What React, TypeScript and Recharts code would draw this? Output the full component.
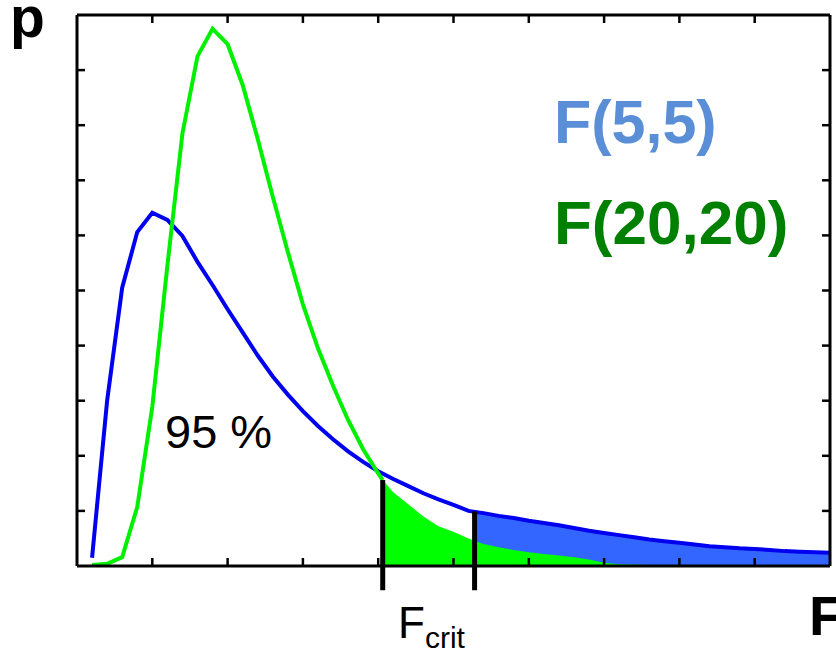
import React from "react";
import { ComposedChart, Line, Area, XAxis, YAxis, ReferenceLine } from "recharts";

// F(5,5) density, sampled every 0.1 along the axis
const BLUE_X = [
  0.1, 0.2, 0.3, 0.4, 0.5, 0.6, 0.7, 0.8, 0.9, 1.0,
  1.1, 1.2, 1.3, 1.4, 1.5, 1.6, 1.7, 1.8, 1.9, 2.0,
  2.1, 2.2, 2.3, 2.4, 2.5, 2.6, 2.7, 2.8, 2.9, 3.0,
  3.1, 3.2, 3.3, 3.4, 3.5, 3.6, 3.7, 3.8, 3.9, 4.0,
  4.1, 4.2, 4.3, 4.4, 4.5, 4.6, 4.7, 4.8, 4.9, 5.0,
];
const BLUE_Y = [
  0.015, 0.3, 0.505, 0.606, 0.641, 0.628, 0.599, 0.552, 0.51, 0.466,
  0.424, 0.382, 0.344, 0.311, 0.281, 0.254, 0.23, 0.208, 0.189, 0.172,
  0.158, 0.145, 0.132, 0.121, 0.111, 0.1, 0.096, 0.091, 0.087, 0.082,
  0.078, 0.074, 0.069, 0.064, 0.06, 0.056, 0.052, 0.048, 0.045, 0.042,
  0.039, 0.036, 0.034, 0.032, 0.031, 0.029, 0.027, 0.026, 0.025, 0.024,
];

// F(20,20) density up to F crit
const GREEN_X = [
  0.1, 0.2, 0.3, 0.4, 0.5, 0.6, 0.7, 0.8, 0.9, 1.0,
  1.1, 1.2, 1.3, 1.4, 1.5, 1.6, 1.7, 1.8, 1.9, 2.0, 2.03,
];
const GREEN_Y = [
  0.002, 0.004, 0.016, 0.107, 0.289, 0.545, 0.785, 0.925, 0.975, 0.947,
  0.873, 0.775, 0.67, 0.57, 0.475, 0.395, 0.327, 0.265, 0.212, 0.168, 0.156,
];

// shaded tails
const GREEN_TAIL_X = [
  2.03, 2.1, 2.2, 2.3, 2.4, 2.5, 2.6, 2.7, 2.8, 2.9, 3.0, 3.1, 3.2, 3.3,
  3.4, 3.5, 3.6, 3.8, 4.0, 4.5, 5.0,
];
const GREEN_TAIL_Y = [
  0.156, 0.134, 0.112, 0.09, 0.072, 0.062, 0.05, 0.04, 0.034, 0.029, 0.025, 0.022, 0.019, 0.016,
  0.012, 0.006, 0.003, 0.002, 0.002, 0.002, 0.002,
];
const BLUE_TAIL_X = [
  2.64, 2.7, 2.8, 2.9, 3.0, 3.1, 3.2, 3.3, 3.4, 3.5, 3.6, 3.7, 3.8, 3.9, 4.0,
  4.1, 4.2, 4.3, 4.4, 4.5, 4.6, 4.7, 4.8, 4.9, 5.0,
];
const BLUE_TAIL_Y = [
  0.099, 0.096, 0.091, 0.087, 0.082, 0.078, 0.074, 0.069, 0.064, 0.06, 0.056, 0.052, 0.048, 0.045, 0.042,
  0.039, 0.036, 0.034, 0.032, 0.031, 0.029, 0.027, 0.026, 0.025, 0.024,
];

const X_TICKS = [0.5, 1, 1.5, 2, 2.5, 3, 3.5, 4, 4.5];
const Y_TICKS = [0.1, 0.2, 0.3, 0.4, 0.5, 0.6, 0.7, 0.8, 0.9];

const F_CRIT = { x: 2.03, top: 0.156 };
const F_BLUE = { x: 2.64, top: 0.099 };
const BAR_BOTTOM = -0.044;

const toRows = (xs: number[], ys: number[]) => xs.map((x, i) => ({ x, y: ys[i] }));

const blueData = toRows(BLUE_X, BLUE_Y);
const greenData = toRows(GREEN_X, GREEN_Y);
const greenTail = toRows(GREEN_TAIL_X, GREEN_TAIL_Y);
const blueTail = toRows(BLUE_TAIL_X, BLUE_TAIL_Y);

const TICK_LEN = 7;
const tickStroke = { stroke: "#000", strokeWidth: 2.5 };

// axes are 1px thick boxes, so the tick anchor sits 1px outside the plot edge
const BottomTick = (p: any) => <line x1={p.x} x2={p.x} y1={p.y - 1} y2={p.y - 1 - TICK_LEN} {...tickStroke} />;
const TopTick = (p: any) => <line x1={p.x} x2={p.x} y1={p.y + 1} y2={p.y + 1 + TICK_LEN} {...tickStroke} />;
const LeftTick = (p: any) => <line x1={p.x + 1} x2={p.x + 1 + TICK_LEN} y1={p.y} y2={p.y} {...tickStroke} />;
const RightTick = (p: any) => <line x1={p.x - 1} x2={p.x - 1 - TICK_LEN} y1={p.y} y2={p.y} {...tickStroke} />;

const FONT = "'Liberation Sans', Arial, sans-serif";
const axisLine = { stroke: "#000", strokeWidth: 3 };

export default function App() {
  return (
    <div style={{ position: "absolute", left: 0, top: 0, width: 836, height: 651, background: "#fff" }}>
      <ComposedChart width={836} height={651} margin={{ top: 14, right: 5, bottom: 84, left: 76 }}>
        <XAxis
          dataKey="x"
          type="number"
          domain={[0, 5]}
          allowDataOverflow
          ticks={X_TICKS}
          height={1}
          tickSize={0}
          tickMargin={0}
          tickLine={false}
          axisLine={axisLine}
          tick={BottomTick}
        />
        <XAxis
          xAxisId="top"
          orientation="top"
          dataKey="x"
          type="number"
          domain={[0, 5]}
          allowDataOverflow
          ticks={X_TICKS}
          height={1}
          tickSize={0}
          tickMargin={0}
          tickLine={false}
          axisLine={axisLine}
          tick={TopTick}
        />
        <YAxis
          type="number"
          domain={[0, 1]}
          allowDataOverflow
          ticks={Y_TICKS}
          width={1}
          tickSize={0}
          tickMargin={0}
          tickLine={false}
          axisLine={axisLine}
          tick={LeftTick}
        />
        <YAxis
          yAxisId="right"
          orientation="right"
          type="number"
          domain={[0, 1]}
          allowDataOverflow
          ticks={Y_TICKS}
          width={1}
          tickSize={0}
          tickMargin={0}
          tickLine={false}
          axisLine={axisLine}
          tick={RightTick}
        />
        <Area
          data={blueTail}
          dataKey="y"
          type="linear"
          stroke="none"
          fill="#3366ff"
          fillOpacity={1}
          isAnimationActive={false}
        />
        <Area
          data={greenTail}
          dataKey="y"
          type="linear"
          stroke="none"
          fill="#00ff00"
          fillOpacity={1}
          isAnimationActive={false}
        />
        <Line
          data={blueData}
          dataKey="y"
          type="linear"
          stroke="#0000f0"
          strokeWidth={4}
          dot={false}
          isAnimationActive={false}
        />
        <Line
          data={greenData}
          dataKey="y"
          type="linear"
          stroke="#00f000"
          strokeWidth={4}
          dot={false}
          isAnimationActive={false}
        />
        <ReferenceLine
          segment={[{ x: F_CRIT.x, y: BAR_BOTTOM }, { x: F_CRIT.x, y: F_CRIT.top }]}
          stroke="#000"
          strokeWidth={5}
          ifOverflow="visible"
        />
        <ReferenceLine
          segment={[{ x: F_BLUE.x, y: BAR_BOTTOM }, { x: F_BLUE.x, y: F_BLUE.top }]}
          stroke="#000"
          strokeWidth={5}
          ifOverflow="visible"
        />
      </ComposedChart>
      <svg
        width={836}
        height={651}
        style={{ position: "absolute", left: 0, top: 0, pointerEvents: "none" }}
        fontFamily={FONT}
      >
        <text x={10} y={37} fontSize={57} fontWeight="bold" fill="#000">p</text>
        <text x={809} y={635} fontSize={56} fontWeight="bold" fill="#000">F</text>
        <text x={165} y={448} fontSize={47} fill="#000">95 %</text>
        <text x={398} y={638} fontSize={44} fill="#000">
          F
          <tspan fontSize={30} dy={10}>crit</tspan>
        </text>
        <text x={554} y={143} fontSize={61} fontWeight="bold" fill="#5a8fd8">F(5,5)</text>
        <text x={554} y={244} fontSize={62} fontWeight="bold" fill="#008000">F(20,20)</text>
      </svg>
    </div>
  );
}
